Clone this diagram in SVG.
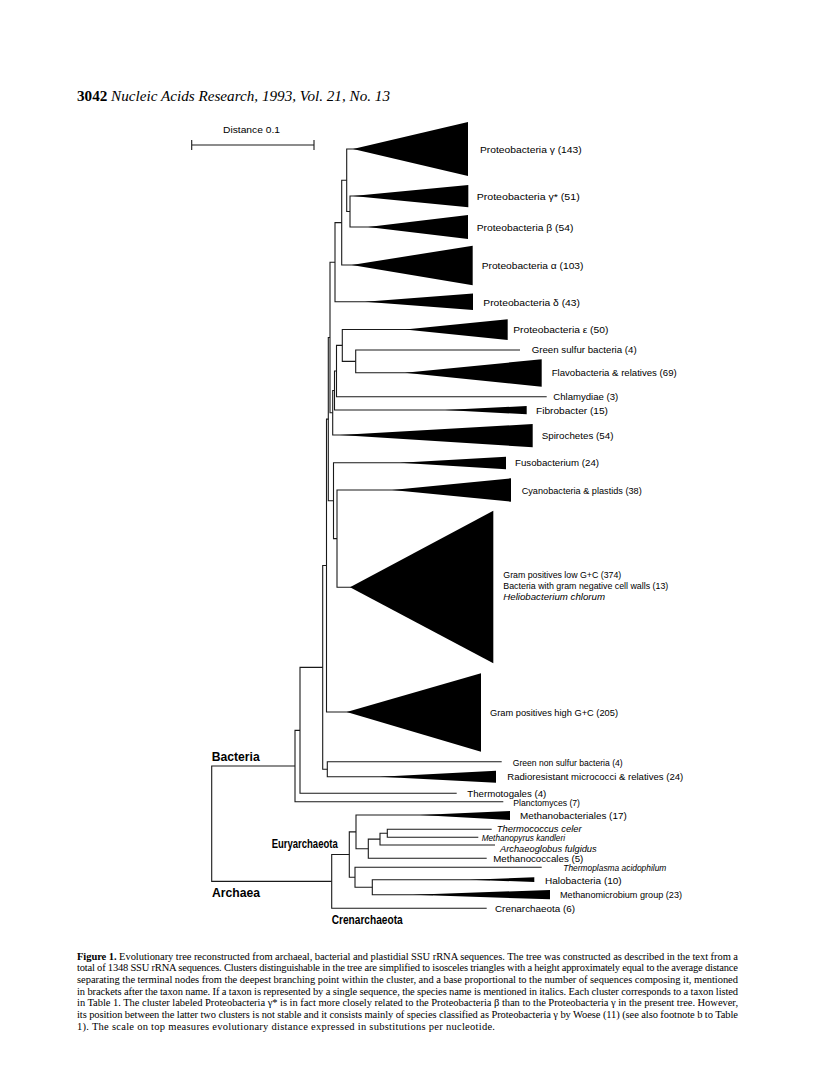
<svg xmlns="http://www.w3.org/2000/svg" width="816" height="1074" viewBox="0 0 816 1074">
<style>
.br{fill:none;stroke:#1a1a1a;stroke-width:1.1}
.tri{fill:#000}
.lb{font-family:"Liberation Sans",Arial,sans-serif;font-size:9.5px;fill:#000}
.it{font-style:italic;font-size:8.6px}
.gp{font-family:"Liberation Sans",Arial,sans-serif;font-size:12px;font-weight:bold;fill:#000}
.cap{font-family:"Liberation Serif","Times New Roman",serif;font-size:10.5px;fill:#000}
.hd{font-family:"Liberation Serif","Times New Roman",serif;font-size:14px;font-style:italic;fill:#000}
</style>
<rect width="816" height="1074" fill="#fff"/>
<text class="hd" x="77" y="100.5" textLength="313" lengthAdjust="spacingAndGlyphs"><tspan font-weight="bold" font-style="normal">3042</tspan> Nucleic Acids Research, 1993, Vol. 21, No. 13</text>
<g id="scale">
<text class="lb" x="223" y="133" textLength="57" lengthAdjust="spacingAndGlyphs">Distance 0.1</text>
<path class="br" d="M191.7 145 H314 M191.7 140 V150 M314 140 V150"/>
</g>
<g id="connectors">
<path class="br" d="M373 196 H350 V227 H388"/>
<path class="br" d="M373 149 H346.7 V211.5 H350"/>
<path class="br" d="M346.7 180.25 H341.7 V265 H371.7"/>
<path class="br" d="M341.7 222.6 H335 V301.7 H385"/>
<path class="br" d="M520 350 H355.7 V372.7 H425"/>
<path class="br" d="M425 329.5 H342.3 V361.35 H355.7"/>
<path class="br" d="M342.3 345.4 H336.5 V396.7 H546.7"/>
<path class="br" d="M336.5 371 H334.5 V410 H465"/>
<path class="br" d="M334.5 390.5 H332.7 V435 H360"/>
<path class="br" d="M335 262.2 H330 V412.75 H332.7"/>
<path class="br" d="M412 490 H337 V587.3 H370"/>
<path class="br" d="M420 462.7 H333.5 V538.65 H337"/>
<path class="br" d="M330 337.5 H328.3 V500.7 H333.5"/>
<path class="br" d="M328.3 419.1 H326.5 V712 H366.7"/>
<path class="br" d="M501.7 761.7 H327.3 V776.7 H400"/>
<path class="br" d="M326.5 565.55 H322.7 V769.2 H327.3"/>
<path class="br" d="M322.7 667.4 H300 V793.3 H456.7"/>
<path class="br" d="M300 730.35 H295 V801.7 H503.3"/>
<path class="br" d="M295 766 H211.7 V881.4 H331.7"/>
<path class="br" d="M491.7 829.3 H387.3 V837.3 H478.3"/>
<path class="br" d="M387.3 833.3 H380 V845 H495"/>
<path class="br" d="M380 839.15 H368.3 V858.3 H486.7"/>
<path class="br" d="M440 815 H356 V848.7 H368.3"/>
<path class="br" d="M490 879.7 H372.3 V894.7 H433"/>
<path class="br" d="M541.7 867.3 H355 V887.2 H372.3"/>
<path class="br" d="M356 831.85 H349.3 V877.25 H355"/>
<path class="br" d="M349.3 854.55 H331.7 V908.3 H486.7"/>
</g>
<g id="proteo-gamma"><polygon class="tri" points="353,149 468,122 468,176"/><text class="lb" x="480" y="153" textLength="101.7" lengthAdjust="spacingAndGlyphs">Proteobacteria γ (143)</text></g>
<g id="proteo-gamma-star"><polygon class="tri" points="353,196 468.3,185 468.3,207.3"/><text class="lb" x="476.7" y="199.5" textLength="103" lengthAdjust="spacingAndGlyphs">Proteobacteria γ* (51)</text></g>
<g id="proteo-beta"><polygon class="tri" points="368,227 468,215 468,239"/><text class="lb" x="476.7" y="230.5" textLength="96.7" lengthAdjust="spacingAndGlyphs">Proteobacteria β (54)</text></g>
<g id="proteo-alpha"><polygon class="tri" points="351.7,265 472.7,245.7 472.7,285.3"/><text class="lb" x="481.7" y="268.5" textLength="101.7" lengthAdjust="spacingAndGlyphs">Proteobacteria α (103)</text></g>
<g id="proteo-delta"><polygon class="tri" points="365,301.7 473,293.5 473,310"/><text class="lb" x="483.3" y="305.5" textLength="96.7" lengthAdjust="spacingAndGlyphs">Proteobacteria δ (43)</text></g>
<g id="proteo-epsilon"><polygon class="tri" points="405,329.5 507.7,319.3 507.7,340"/><text class="lb" x="513.3" y="333" textLength="95" lengthAdjust="spacingAndGlyphs">Proteobacteria ε (50)</text></g>
<g id="green-sulfur"><text class="lb" x="531.7" y="352.8" textLength="105" lengthAdjust="spacingAndGlyphs">Green sulfur bacteria (4)</text></g>
<g id="flavobacteria"><polygon class="tri" points="405,372.7 541.7,359.3 541.7,386.7"/><text class="lb" x="551.7" y="376" textLength="125" lengthAdjust="spacingAndGlyphs">Flavobacteria &amp; relatives (69)</text></g>
<g id="chlamydiae"><text class="lb" x="553.3" y="400" textLength="65" lengthAdjust="spacingAndGlyphs">Chlamydiae (3)</text></g>
<g id="fibrobacter"><polygon class="tri" points="445,410 526.7,406 526.7,414.3"/><text class="lb" x="536" y="413.5" textLength="72" lengthAdjust="spacingAndGlyphs">Fibrobacter (15)</text></g>
<g id="spirochetes"><polygon class="tri" points="340,435 532.7,424 532.7,447.3"/><text class="lb" x="541.7" y="438.5" textLength="71.7" lengthAdjust="spacingAndGlyphs">Spirochetes (54)</text></g>
<g id="fusobacterium"><polygon class="tri" points="400,462.7 506,456.7 506,469.3"/><text class="lb" x="515" y="466" textLength="84" lengthAdjust="spacingAndGlyphs">Fusobacterium (24)</text></g>
<g id="cyanobacteria"><polygon class="tri" points="392,490 511,478.3 511,501.7"/><text class="lb" x="521.7" y="493.5" textLength="120" lengthAdjust="spacingAndGlyphs">Cyanobacteria &amp; plastids (38)</text></g>
<g id="gram-low"><polygon class="tri" points="350,587.3 493.3,510.7 493.3,663.3"/>
<text class="lb" x="503.3" y="577.5" textLength="118" lengthAdjust="spacingAndGlyphs">Gram positives low G+C (374)</text>
<text class="lb" x="503.3" y="589" textLength="165" lengthAdjust="spacingAndGlyphs">Bacteria with gram negative cell walls (13)</text>
<text class="lb it" x="503.3" y="600" textLength="101.7" lengthAdjust="spacingAndGlyphs">Heliobacterium chlorum</text></g>
<g id="gram-high"><polygon class="tri" points="346.7,712 481,673.3 481,751.7"/><text class="lb" x="490" y="715.5" textLength="128" lengthAdjust="spacingAndGlyphs">Gram positives high G+C (205)</text></g>
<g id="green-non-sulfur"><text class="lb" x="512.7" y="765.5" textLength="110" lengthAdjust="spacingAndGlyphs">Green non sulfur bacteria (4)</text></g>
<g id="radioresistant"><polygon class="tri" points="380,776.7 496,770.7 496,782.7"/><text class="lb" x="507.3" y="780" textLength="176" lengthAdjust="spacingAndGlyphs">Radioresistant micrococci &amp; relatives (24)</text></g>
<g id="thermotogales"><text class="lb" x="467.3" y="796.5" textLength="79" lengthAdjust="spacingAndGlyphs">Thermotogales (4)</text></g>
<g id="planctomyces"><text class="lb" x="513.3" y="805.5" textLength="66.7" lengthAdjust="spacingAndGlyphs">Planctomyces (7)</text></g>
<g id="methanobacteriales"><polygon class="tri" points="420,815 510,811 510,820"/><text class="lb" x="520" y="819" textLength="106.7" lengthAdjust="spacingAndGlyphs">Methanobacteriales (17)</text></g>
<g id="thermococcus"><text class="lb it" x="496.7" y="832" textLength="85" lengthAdjust="spacingAndGlyphs">Thermococcus celer</text></g>
<g id="methanopyrus"><text class="lb it" x="481.7" y="840.8" textLength="83.3" lengthAdjust="spacingAndGlyphs">Methanopyrus kandleri</text></g>
<g id="archaeoglobus"><text class="lb it" x="500" y="851.8" textLength="96.7" lengthAdjust="spacingAndGlyphs">Archaeoglobus fulgidus</text></g>
<g id="methanococcales"><text class="lb" x="493.3" y="861.5" textLength="90" lengthAdjust="spacingAndGlyphs">Methanococcales (5)</text></g>
<g id="thermoplasma"><text class="lb it" x="563.3" y="870.5" textLength="103" lengthAdjust="spacingAndGlyphs">Thermoplasma acidophilum</text></g>
<g id="halobacteria"><polygon class="tri" points="470,879.7 534.3,877.3 534.3,882"/><text class="lb" x="545" y="884" textLength="76.7" lengthAdjust="spacingAndGlyphs">Halobacteria (10)</text></g>
<g id="methanomicrobium"><polygon class="tri" points="413,894.7 550,890 550,899.3"/><text class="lb" x="560" y="898" textLength="122" lengthAdjust="spacingAndGlyphs">Methanomicrobium group (23)</text></g>
<g id="crenarchaeota-leaf"><text class="lb" x="495" y="911.5" textLength="80" lengthAdjust="spacingAndGlyphs">Crenarchaeota (6)</text></g>
<g id="group-labels">
<text class="gp" x="211.7" y="761" textLength="48" lengthAdjust="spacingAndGlyphs">Bacteria</text>
<text class="gp" x="212" y="896.5" textLength="48" lengthAdjust="spacingAndGlyphs">Archaea</text>
<text class="gp" x="271.7" y="847.5" textLength="66" lengthAdjust="spacingAndGlyphs">Euryarchaeota</text>
<text class="gp" x="331.7" y="924" textLength="71" lengthAdjust="spacingAndGlyphs">Crenarchaeota</text>
</g>
<g id="caption">
<text class="cap" x="77" y="959.5" textLength="661" lengthAdjust="spacing"><tspan font-weight="bold">Figure 1.</tspan> Evolutionary tree reconstructed from archaeal, bacterial and plastidial SSU rRNA sequences. The tree was constructed as described in the text from a</text>
<text class="cap" x="77" y="971.2" textLength="661" lengthAdjust="spacing">total of 1348 SSU rRNA sequences. Clusters distinguishable in the tree are simplified to isosceles triangles with a height approximately equal to the average distance</text>
<text class="cap" x="77" y="982.9" textLength="661" lengthAdjust="spacing">separating the terminal nodes from the deepest branching point within the cluster, and a base proportional to the number of sequences composing it, mentioned</text>
<text class="cap" x="77" y="994.6" textLength="661" lengthAdjust="spacing">in brackets after the taxon name. If a taxon is represented by a single sequence, the species name is mentioned in italics. Each cluster corresponds to a taxon listed</text>
<text class="cap" x="77" y="1006.3" textLength="661" lengthAdjust="spacing">in Table 1. The cluster labeled Proteobacteria γ* is in fact more closely related to the Proteobacteria β than to the Proteobacteria γ in the present tree. However,</text>
<text class="cap" x="77" y="1018" textLength="661" lengthAdjust="spacing">its position between the latter two clusters is not stable and it consists mainly of species classified as Proteobacteria γ by Woese (11) (see also footnote b to Table</text>
<text class="cap" x="77" y="1029.7" textLength="418" lengthAdjust="spacing">1). The scale on top measures evolutionary distance expressed in substitutions per nucleotide.</text>
</g>
</svg>
